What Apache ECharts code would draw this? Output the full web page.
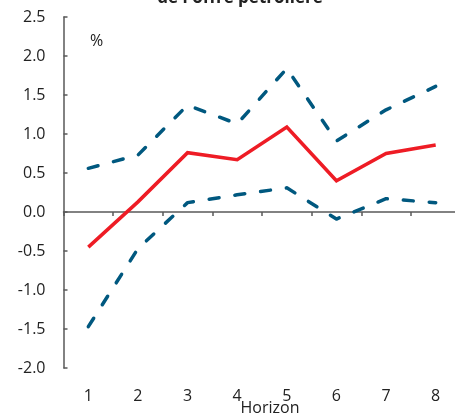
<!DOCTYPE html>
<html>
<head>
<meta charset="utf-8">
<script src="https://cdn.jsdelivr.net/npm/echarts@6/dist/echarts.min.js"></script>
<style>
  html, body { margin: 0; padding: 0; background: #fff; }
  #chart { width: 455px; height: 417px; }
</style>
</head>
<body>
<div id="chart"></div>
<script>
// horizons
var horizons = ['1', '2', '3', '4', '5', '6', '7', '8'];
// central estimate (%)
var central = [-0.45, 0.13, 0.76, 0.67, 1.09, 0.40, 0.75, 0.86];
// confidence band
var upper = [0.56, 0.73, 1.37, 1.13, 1.84, 0.91, 1.31, 1.61];
var lower = [-1.47, -0.47, 0.12, 0.22, 0.31, -0.09, 0.17, 0.12];

var axisColor = '#595959';
var textColor = '#222';
var font = '"Open Sans", "DejaVu Sans", sans-serif';
var red = '#EE1C25';
var blue = '#00587F';

var chart = echarts.init(document.getElementById('chart'));

var bandStyle = {
	color: blue, width: 3.5, type: [10, 16], cap: 'round', join: 'round'
};

chart.setOption({
	animation: false,
	backgroundColor: '#fff',
	grid: { left: 63.5, top: 17, width: 397, bottom: 49, containLabel: false, outerBoundsMode: 'none' },
	xAxis: [{
		// zero line with ticks between the horizons
		type: 'category',
		data: horizons,
		boundaryGap: true,
		axisLine: { onZero: true, lineStyle: { color: axisColor, width: 1.5 } },
		axisTick: { show: true, length: 4, lineStyle: { color: axisColor, width: 1.5 } },
		axisLabel: { show: false },
		splitLine: { show: false }
	}, {
		// labels under the plot
		type: 'category',
		data: horizons,
		position: 'bottom',
		boundaryGap: true,
		axisLine: { show: false, onZero: false },
		axisTick: { show: false },
		axisLabel: { margin: 20, color: textColor, fontSize: 16, fontFamily: font },
		splitLine: { show: false }
	}],
	yAxis: {
		type: 'value',
		min: -2, max: 2.5, interval: 0.5,
		axisLine: { show: true, lineStyle: { color: axisColor, width: 1.5 } },
		axisTick: { show: true, inside: true, length: 4, lineStyle: { color: axisColor, width: 1.5 } },
		axisLabel: {
			margin: 18, color: textColor, fontSize: 16, fontFamily: font,
			formatter: function(v){ return v.toFixed(1); }
		},
		splitLine: { show: false }
	},
	graphic: [{
		type: 'text', x: 240, y: -10,
		style: { text: "de l'offre pétrolière", font: 'bold 17px ' + font, fill: textColor, textAlign: 'center', textVerticalAlign: 'top' }
	}, {
		type: 'text', x: 90, y: 33,
		style: { text: '%', font: '16px ' + font, fill: textColor, textVerticalAlign: 'top' }
	}, {
		type: 'text', x: 270, y: 400,
		style: { text: 'Horizon', font: '16px ' + font, fill: textColor, textAlign: 'center', textVerticalAlign: 'top' }
	}],
	series: [{
		name: 'upper', type: 'line', data: upper, symbol: 'none',
		lineStyle: bandStyle, z: 2
	}, {
		name: 'lower', type: 'line', data: lower, symbol: 'none',
		lineStyle: bandStyle, z: 2
	}, {
		name: 'central', type: 'line', data: central, symbol: 'none',
		lineStyle: { color: red, width: 3.5, join: 'miter' }, z: 3
	}]
});
</script>
</body>
</html>
